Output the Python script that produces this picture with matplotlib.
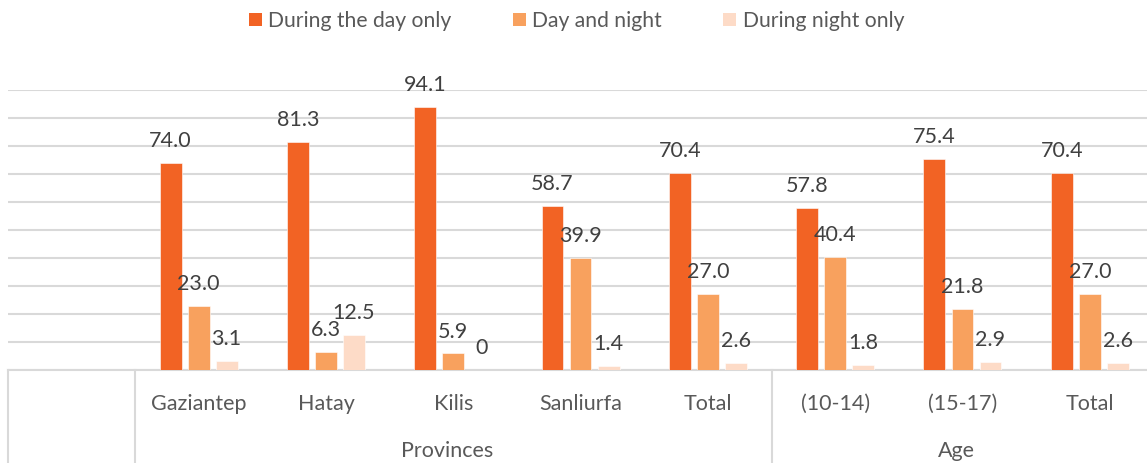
import matplotlib
matplotlib.use("Agg")
import matplotlib.pyplot as plt
from matplotlib.patches import Patch
import matplotlib.transforms as mtransforms
import numpy as np

plt.rcParams['font.family'] = ['Lato', 'DejaVu Sans']

categories = ["Gaziantep", "Hatay", "Kilis", "Sanliurfa", "Total", "(10-14)", "(15-17)", "Total"]
groups = ["Provinces", "Age"]
group_sizes = [5, 3]
series_names = ["During the day only", "Day and night", "During night only"]
day_only = [74.0, 81.3, 94.1, 58.7, 70.4, 57.8, 75.4, 70.4]
day_night = [23.0, 6.3, 5.9, 39.9, 27.0, 40.4, 21.8, 27.0]
night_only = [3.1, 12.5, 0, 1.4, 2.6, 1.8, 2.9, 2.6]
labels_day_only = ["74.0", "81.3", "94.1", "58.7", "70.4", "57.8", "75.4", "70.4"]
labels_day_night = ["23.0", "6.3", "5.9", "39.9", "27.0", "40.4", "21.8", "27.0"]
labels_night_only = ["3.1", "12.5", "0", "1.4", "2.6", "1.8", "2.9", "2.6"]

colors = ["#F26324", "#F8A15E", "#FDDBC7"]
text_color = "#404040"
axis_text_color = "#595959"
grid_color = "#D9D9D9"

W, H = 1147, 463
fig = plt.figure(figsize=(W / 100, H / 100), dpi=100)
left_px, right_px = 7.7, 1153.4
base_px, top_px = 370, 90
ax = fig.add_axes([left_px / W, (H - base_px) / H, (right_px - left_px) / W, (base_px - top_px) / H])

x = np.arange(1, len(categories) + 1)
width = 0.172
step = 0.22
series = [day_only, day_night, night_only]
labels = [labels_day_only, labels_day_night, labels_night_only]
for k, (vals, labs) in enumerate(zip(series, labels)):
    xs = x + (k - 1) * step
    ax.bar(xs, vals, width=width, color=colors[k], edgecolor="white", linewidth=0.4, zorder=3)
    for xi, v, lab in zip(xs, vals, labs):
        ax.annotate(lab, (xi, v), xytext=(0, 11.5), textcoords="offset points",
                    ha="center", va="baseline", fontsize=15.5, color=text_color, zorder=4)

ax.set_xlim(-0.5, len(categories) + 0.5)
ax.set_ylim(0, 100)
ax.set_yticks(np.arange(0, 101, 10))
ax.yaxis.grid(True, color=grid_color, linewidth=1.5, zorder=0)
ax.set_axisbelow(True)
ax.tick_params(left=False, bottom=False, labelleft=False, labelbottom=False)
for s in ["top", "right", "left"]:
    ax.spines[s].set_visible(False)
ax.spines["bottom"].set_color(grid_color)
ax.spines["bottom"].set_linewidth(1.5)
ax.set_xticks([])

trans = mtransforms.blended_transform_factory(ax.transData, ax.transAxes)
# category labels
for xi, c in zip(x, categories):
    ax.text(xi, -0.121, c, transform=trans, ha="center", va="center",
            fontsize=15.5, color=axis_text_color, clip_on=False)
# group labels and separators
start = 0.5
sep_positions = [-0.5, 0.5]
for g, n in zip(groups, group_sizes):
    center = start + n / 2
    ax.text(center - 0.05, -0.289, g, transform=trans, ha="center", va="center",
            fontsize=15.5, color=axis_text_color, clip_on=False)
    start += n
    sep_positions.append(start)
for sp in sep_positions[:-1]:
    ax.plot([sp, sp], [0, -0.34], transform=trans, color=grid_color, linewidth=1.5,
            clip_on=False, zorder=1)

handles = [Patch(facecolor=c, edgecolor="none") for c in colors]
fig.legend(handles, series_names, loc="center", bbox_to_anchor=(0.5027, 1 - 21 / H),
           ncol=3, frameon=False, fontsize=15.2, handlelength=0.62, handleheight=0.62,
           handletextpad=0.3, columnspacing=2.9, labelcolor=axis_text_color)

fig.savefig("out.png", dpi=100)
